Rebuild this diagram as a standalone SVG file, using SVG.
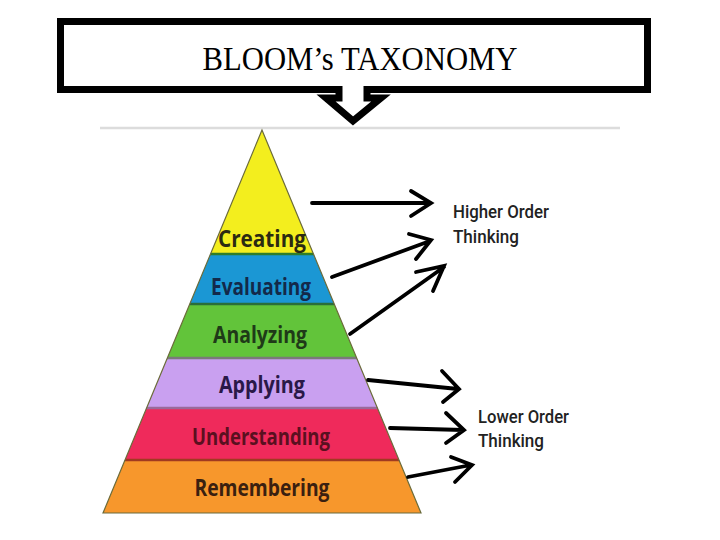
<svg xmlns="http://www.w3.org/2000/svg" width="720" height="540" viewBox="0 0 720 540">
<style>
.lvl{font-family:"Open Sans","DejaVu Sans",sans-serif;font-weight:bold;font-size:24px;text-anchor:middle}
.side{font-family:Roboto,"Liberation Sans",Arial,sans-serif;font-weight:500;font-size:18px;fill:#222}
.arr{fill:none;stroke:#000;stroke-width:3.8;stroke-linecap:round;stroke-linejoin:miter}
.sep{stroke-width:2.5}
</style>
<defs>
<clipPath id="pyr"><polygon points="262,130 103,513 421,513"/></clipPath>
</defs>
<rect width="720" height="540" fill="#fff"/>
<line x1="100" y1="128" x2="620" y2="128" stroke="#dcdcdc" stroke-width="2.5"/>
<g id="title">
<path d="M60.5 21.5 H647.5 V89.5 H367 V98 H381 L353 121 L326 98 H339 V89.5 H60.5 Z" fill="#fff" stroke="#000" stroke-width="7" stroke-linejoin="miter"/>
<text x="360" y="70" font-family="Liberation Serif,'Times New Roman',serif" font-size="34" text-anchor="middle" textLength="315" lengthAdjust="spacingAndGlyphs">BLOOM’s TAXONOMY</text>
</g>
<g id="pyramid" clip-path="url(#pyr)">
<g id="creating"><rect x="90" y="125" width="340" height="129" fill="#f3ee1e"/></g>
<g id="evaluating"><rect x="90" y="254" width="340" height="50" fill="#1b97d4"/></g>
<g id="analyzing"><rect x="90" y="304" width="340" height="54" fill="#62c43a"/></g>
<g id="applying"><rect x="90" y="358" width="340" height="50" fill="#c9a0f0"/></g>
<g id="understanding"><rect x="90" y="408" width="340" height="52" fill="#ef2a5b"/></g>
<g id="remembering"><rect x="90" y="460" width="340" height="55" fill="#f7972c"/></g>
<line class="sep" x1="90" y1="254" x2="430" y2="254" stroke="#2e7d2a"/>
<line class="sep" x1="90" y1="304" x2="430" y2="304" stroke="#2a6e3a"/>
<line class="sep" x1="90" y1="358" x2="430" y2="358" stroke="#7a7a7a"/>
<line class="sep" x1="90" y1="408" x2="430" y2="408" stroke="#9a6a9a"/>
<line class="sep" x1="90" y1="460" x2="430" y2="460" stroke="#a03a20"/>
</g>
<polygon points="262,130 103,513 421,513" fill="none" stroke="#6b6b3a" stroke-width="1.2"/>
<g id="labels">
<text class="lvl" x="262" y="247" fill="#2b2a12" textLength="88" lengthAdjust="spacingAndGlyphs">Creating</text>
<text class="lvl" x="261" y="295" fill="#13294a" textLength="100" lengthAdjust="spacingAndGlyphs">Evaluating</text>
<text class="lvl" x="260" y="343" fill="#1f3a18" textLength="94" lengthAdjust="spacingAndGlyphs">Analyzing</text>
<text class="lvl" x="262" y="393" fill="#2a1848" textLength="86" lengthAdjust="spacingAndGlyphs">Applying</text>
<text class="lvl" x="261" y="445" fill="#5a1020" textLength="138" lengthAdjust="spacingAndGlyphs">Understanding</text>
<text class="lvl" x="262" y="496" fill="#3a2010" textLength="135" lengthAdjust="spacingAndGlyphs">Remembering</text>
</g>
<g id="connectors">
<path class="arr" d="M312 203 H430 M411 191 L431 203 L411 216"/>
<path class="arr" d="M332 277 L430 241 M409 234 L431 240 L416 259"/>
<path class="arr" d="M350 334 L444 267 M416 272 L444 266 L433 291"/>
<path class="arr" d="M368 380 L458 389 M442 371 L459 389 L443 402"/>
<path class="arr" d="M390 428 L463 430 M446 413 L464 430 L446 443"/>
<path class="arr" d="M408 477 L471 465 M451 457 L472 465 L455 482"/>
</g>
<g id="higher">
<text class="side" x="453" y="218" textLength="96" lengthAdjust="spacingAndGlyphs">Higher Order</text>
<text class="side" x="453" y="243" textLength="66" lengthAdjust="spacingAndGlyphs">Thinking</text>
</g>
<g id="lower">
<text class="side" x="478" y="423" textLength="91" lengthAdjust="spacingAndGlyphs">Lower Order</text>
<text class="side" x="478" y="447" textLength="66" lengthAdjust="spacingAndGlyphs">Thinking</text>
</g>
</svg>
